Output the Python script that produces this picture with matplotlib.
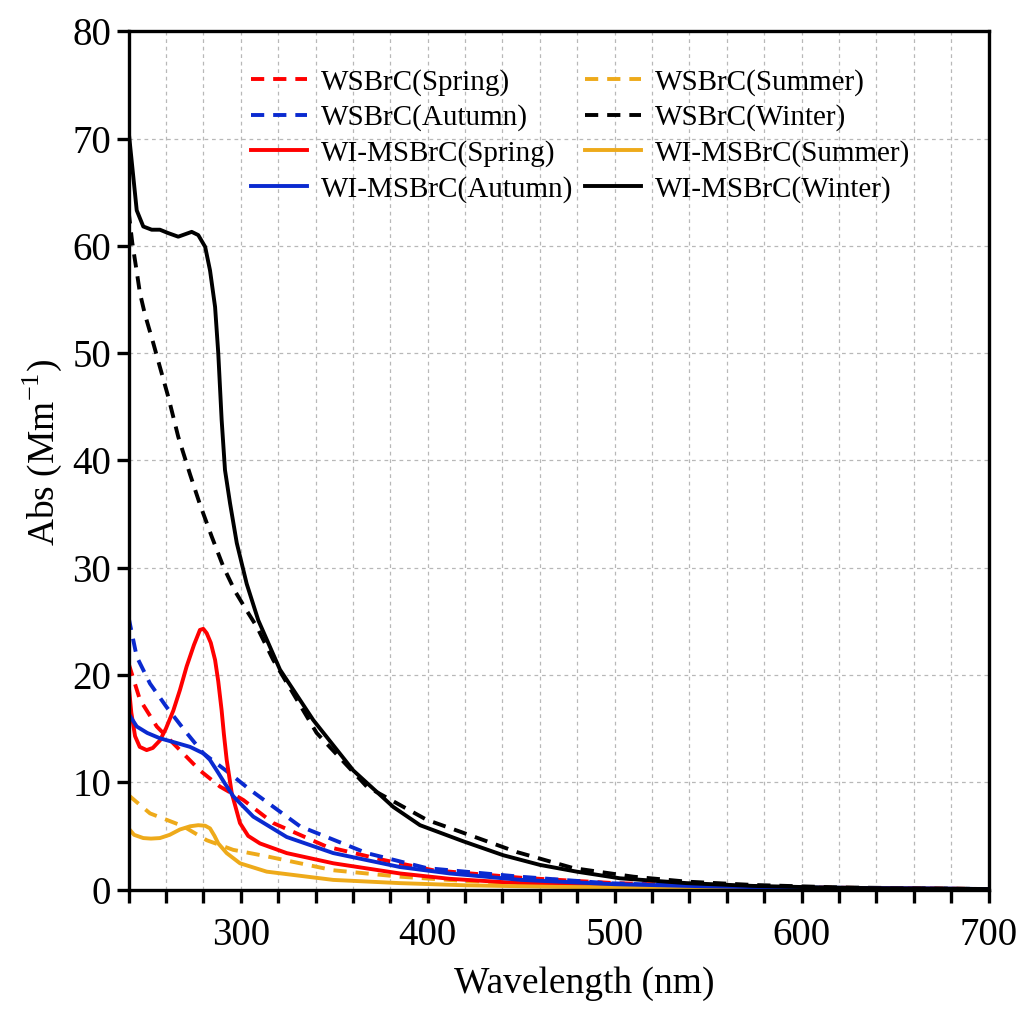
import matplotlib
matplotlib.use("Agg")
import matplotlib.pyplot as plt
from matplotlib.ticker import MultipleLocator

plt.rcParams['font.family'] = ['Liberation Serif', 'DejaVu Serif']
plt.rcParams['mathtext.fontset'] = 'custom'
plt.rcParams['mathtext.rm'] = 'Liberation Serif'

# WI-MSBrC (solid lines)
wl_wi_winter = [240, 244.4, 247.9, 252.4, 256.8, 261, 266.6, 273.8, 277.3, 281, 283.6, 286.3, 288,
                289.8, 291.6, 294.3, 297.9, 303.2, 309.4, 321, 338.8, 360.2, 381.6, 395.9, 419,
                440.4, 460, 479.7, 502.8, 538.5, 574, 609.8, 650, 700]
wi_winter = [70.8, 63.3, 61.8, 61.5, 61.5, 61.2, 60.85, 61.3, 61.0, 59.9, 57.7, 54.3, 50,
             43.8, 39.1, 36, 32.3, 28.5, 25.1, 20.5, 15.8, 11.1, 7.7, 6.0, 4.5,
             3.2, 2.3, 1.67, 1.05, 0.6, 0.34, 0.2, 0.1, 0.05]

wl_wi_spring = [240, 241.5, 243.5, 246, 249.7, 253, 256.8, 260, 264, 267.5, 271.1, 275, 278.2, 280,
                281.8, 284, 286.3, 288, 289.8, 291, 292.5, 295.2, 299.6, 304, 310.3, 324.6, 349.5,
                385.2, 411.9, 449, 500, 550, 600, 700]
wi_spring = [19.2, 16.5, 14.3, 13.3, 13.0, 13.2, 13.9, 15.0, 16.7, 18.6, 20.8, 22.8, 24.2, 24.3,
             23.9, 23.0, 21.4, 19.4, 16.7, 14.5, 12.1, 9.0, 6.2, 5.0, 4.3, 3.4, 2.45,
             1.5, 1.0, 0.6, 0.35, 0.2, 0.12, 0.05]

wl_wi_autumn = [240, 244.4, 250, 256.8, 265, 272.9, 280, 283.5, 287.2, 291.5, 296, 306.7, 324.6,
                349.5, 385.2, 411.9, 450, 500, 550, 600, 700]
wi_autumn = [16.4, 15.2, 14.6, 14.1, 13.7, 13.3, 12.7, 12.1, 11.1, 9.9, 8.7, 6.8, 4.9,
             3.4, 2.1, 1.5, 0.9, 0.5, 0.3, 0.15, 0.05]

wl_wi_summer = [240, 243, 247.9, 252, 256.8, 262, 267.5, 273, 277.3, 281, 283.6, 286, 288, 292.5,
                299.6, 313.9, 349.5, 385.2, 420, 470, 550, 700]
wi_summer = [5.7, 5.1, 4.8, 4.75, 4.8, 5.1, 5.6, 5.9, 6.0, 5.95, 5.7, 5.0, 4.3, 3.4,
             2.45, 1.67, 0.9, 0.6, 0.4, 0.25, 0.12, 0.03]

# WSBrC (dashed lines)
wl_ws_winter = [240, 242, 244.4, 246.1, 248.8, 253.3, 256.8, 261.3, 266.6, 272.9, 278.2, 284.5,
                290.7, 297, 303.2, 308.6, 317.4, 340.6, 367.4, 399.5, 417.3, 447.6, 477.9, 510,
                538.5, 574, 620, 700]
ws_winter = [63.3, 60.3, 57.6, 55.6, 53.6, 50.9, 48.7, 45.9, 42.2, 38.7, 35.9, 32.9,
             30.1, 27.8, 26.0, 24.5, 21.4, 14.6, 9.6, 6.5, 5.4, 3.5, 2.0, 1.2,
             0.74, 0.43, 0.2, 0.05]

wl_ws_spring = [240, 246.1, 255.1, 267.5, 278.2, 288.9, 301.4, 317.4, 346, 376.3, 403, 450, 500,
                550, 600, 700]
ws_spring = [21.1, 17.7, 15.2, 13.0, 11.1, 9.6, 8.35, 6.2, 4.0, 2.76, 1.8, 1.1, 0.6,
             0.35, 0.2, 0.05]

wl_ws_autumn = [240, 244.4, 251.5, 260.4, 271.1, 280, 294.3, 305, 331.7, 367.4, 399.5, 449.4,
                495.7, 540, 600, 700]
ws_autumn = [25.4, 21.7, 19.2, 17.0, 14.6, 12.7, 10.8, 9.3, 5.9, 3.4, 2.0, 1.2,
             0.6, 0.35, 0.2, 0.05]

wl_ws_summer = [240, 251.5, 269.3, 281.8, 296, 313.9, 349.5, 385.2, 420, 470, 520, 600, 700]
ws_summer = [8.8, 7.1, 5.9, 4.6, 3.7, 3.1, 1.8, 1.2, 0.8, 0.5, 0.3, 0.15, 0.05]

RED = '#ff0000'
BLUE = '#0a2ad0'
YELLOW = '#eeaa1a'
BLACK = '#000000'
lw = 2.8
dash = (0, (3.4, 2.3))

fig = plt.figure(figsize=(10.33, 10.17), dpi=100)
ax = fig.add_axes([0.1244, 0.1253, 0.8327, 0.8440])

h1, = ax.plot(wl_ws_spring, ws_spring, color=RED, lw=lw, ls=dash, label='WSBrC(Spring)')
h2, = ax.plot(wl_ws_summer, ws_summer, color=YELLOW, lw=lw, ls=dash, label='WSBrC(Summer)')
h3, = ax.plot(wl_ws_autumn, ws_autumn, color=BLUE, lw=lw, ls=dash, label='WSBrC(Autumn)')
h4, = ax.plot(wl_ws_winter, ws_winter, color=BLACK, lw=lw, ls=dash, label='WSBrC(Winter)')
h5, = ax.plot(wl_wi_spring, wi_spring, color=RED, lw=lw, label='WI-MSBrC(Spring)')
h6, = ax.plot(wl_wi_summer, wi_summer, color=YELLOW, lw=lw, label='WI-MSBrC(Summer)')
h7, = ax.plot(wl_wi_autumn, wi_autumn, color=BLUE, lw=lw, label='WI-MSBrC(Autumn)')
h8, = ax.plot(wl_wi_winter, wi_winter, color=BLACK, lw=lw, label='WI-MSBrC(Winter)')

ax.set_xlim(240, 700)
ax.set_ylim(0, 80)
ax.xaxis.set_major_locator(MultipleLocator(100))
ax.xaxis.set_minor_locator(MultipleLocator(20))
ax.yaxis.set_major_locator(MultipleLocator(10))
ax.grid(which='both', axis='x', color='#b8b8b8', ls=(0, (3, 3)), lw=0.9)
ax.grid(which='major', axis='y', color='#b8b8b8', ls=(0, (3, 3)), lw=0.9)
ax.set_axisbelow(True)

for s in ax.spines.values():
    s.set_linewidth(2.4)
ax.tick_params(which='both', direction='out', width=2.4, length=9, labelsize=28,
               top=False, right=False)
ax.tick_params(axis='x', pad=10.5)

ax.set_xlabel('Wavelength (nm)', fontsize=27, labelpad=9)
ax.set_ylabel('Abs (Mm$^{-1}$)', fontsize=27, labelpad=6)
ax.xaxis.label.set_x(0.5295)
ax.yaxis.label.set_y(0.509)

handles = [h1, h3, h5, h7, h2, h4, h6, h8]
ax.legend(handles=handles, ncol=2, frameon=False, fontsize=21,
          loc='upper left', bbox_to_anchor=(0.112, 0.987),
          handlelength=1.9, handletextpad=0.5, columnspacing=0.4,
          labelspacing=0.3)

fig.savefig('out.png', dpi=100)
